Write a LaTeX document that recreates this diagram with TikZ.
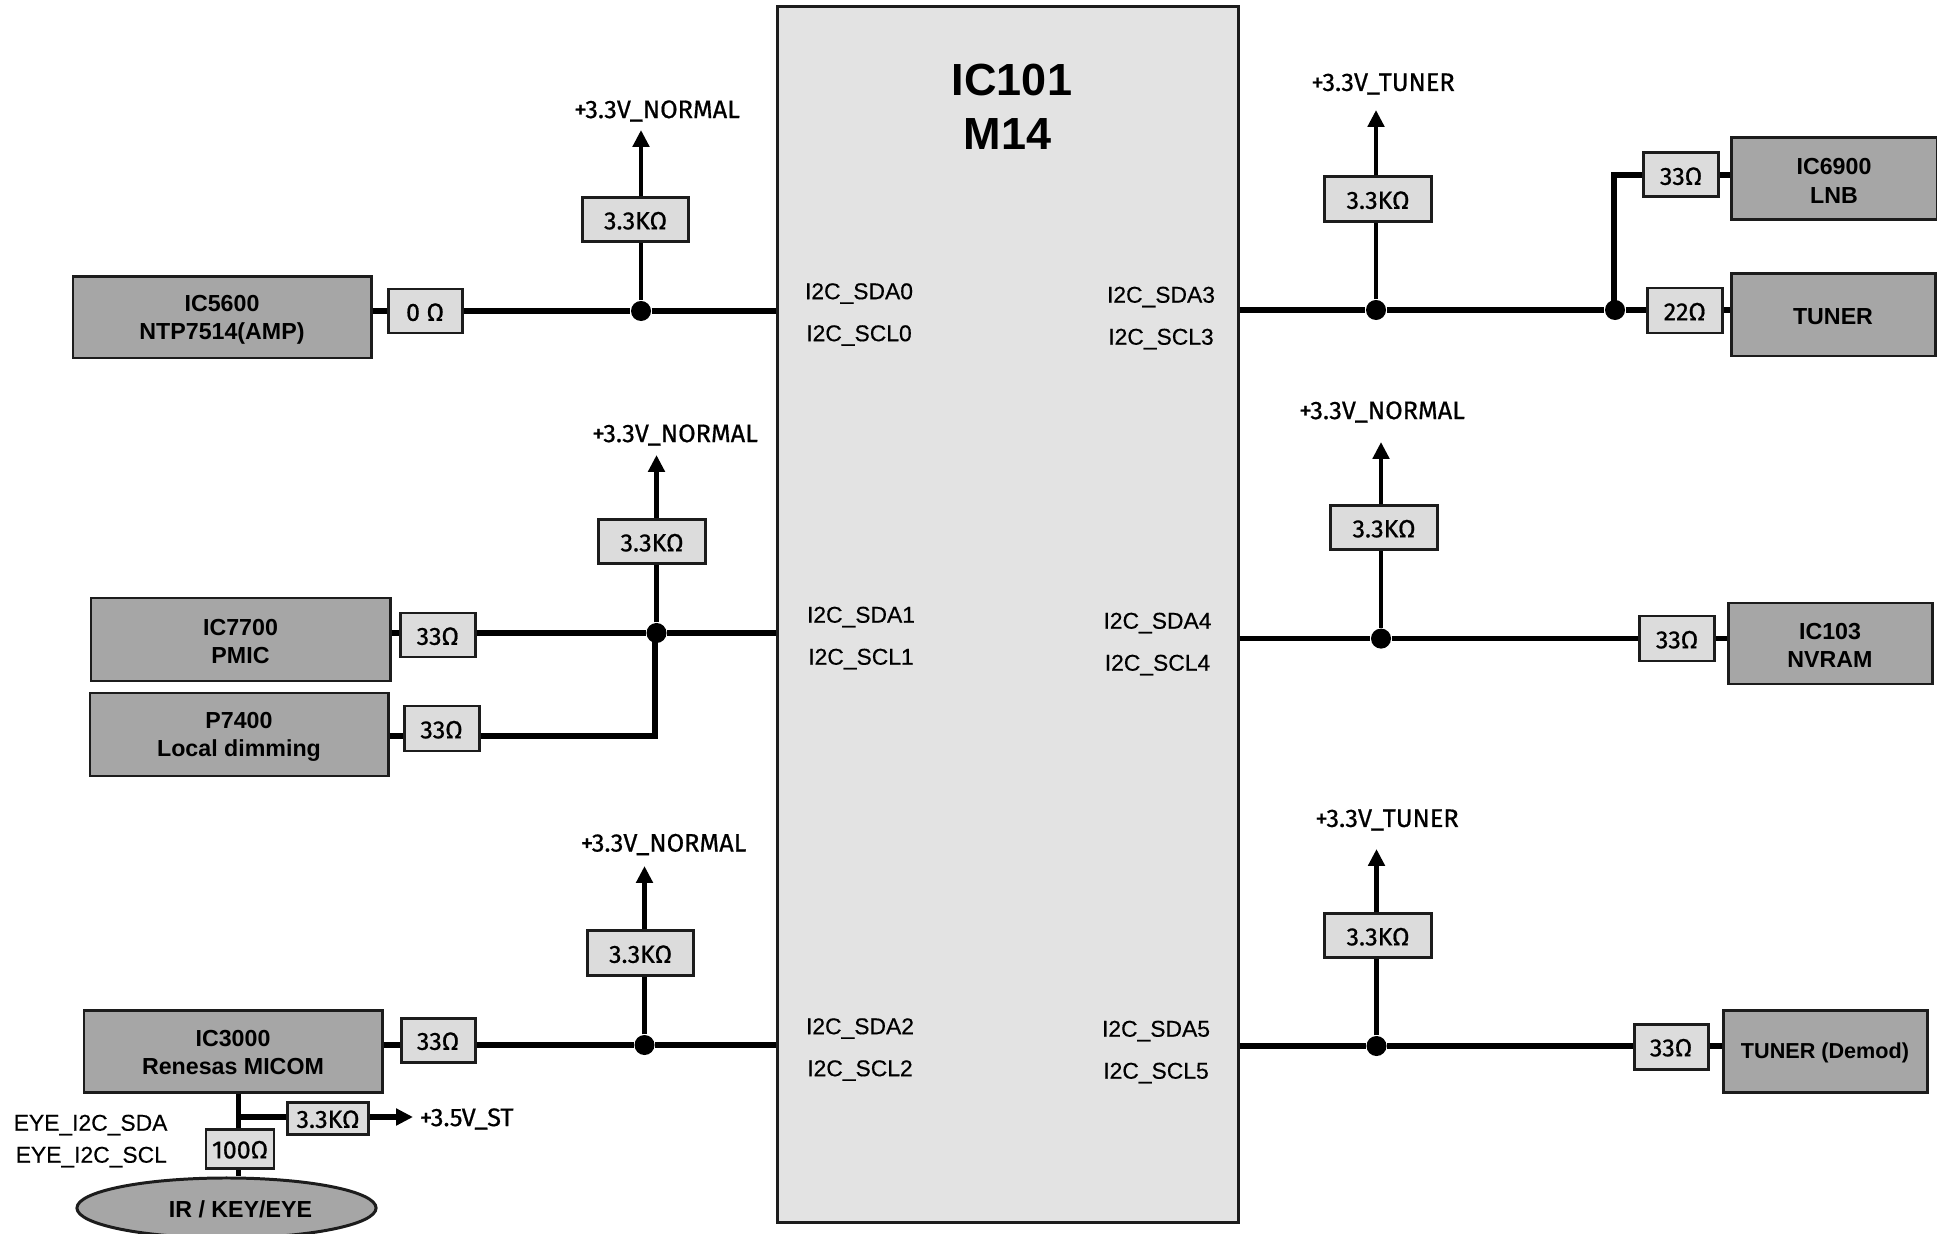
\documentclass[tikz,border=0pt]{standalone}
\usepackage{fontspec}
\setmainfont{Liberation Sans}
\newfontfamily\resfont[FakeBold=0.7]{Fira Sans}
\newfontfamily\pinfont[FakeBold=0.4]{Liberation Sans}
\usetikzlibrary{arrows.meta,shapes.geometric}
\definecolor{chipgray}{HTML}{A6A6A6}
\definecolor{resgray}{HTML}{DCDCDC}
\definecolor{maingray}{HTML}{E3E3E3}
\definecolor{edgegray}{HTML}{1C1C1C}
\newcommand{\chipstrut}{\rule{0pt}{5.7pt}}
\tikzset{
	chip/.style={draw=edgegray, fill=chipgray, line width=0.85pt, inner sep=0pt, align=center, font=\fontsize{6.6}{8}\selectfont\bfseries},
	res/.style={draw=edgegray, fill=resgray, line width=0.85pt, inner sep=0pt, text height=5.6pt, text depth=0pt, font=\fontsize{7.1}{8}\resfont},
	volt/.style={inner sep=0pt, yshift=-0.02cm, font=\fontsize{7.2}{8}\resfont},
	pin/.style={inner sep=0pt, yshift=-0.02cm, font=\fontsize{6.5}{8}\pinfont},
	title/.style={inner sep=0pt, font=\fontsize{12.8}{15.4}\selectfont\bfseries},
	wire/.style={line width=1.55pt, black},
	pull/.style={line width=1.2pt, black},
	junction/.style={circle, fill=black, inner sep=0pt, minimum size=0.2cm}
}
\begin{document}
\begin{tikzpicture}[x=0.01cm, y=-0.01cm, line join=miter, >={Triangle[length=4.8pt,width=4.6pt]}]
	\clip (0,0) rectangle (1937,1234);

	% Main IC
	\node[draw=edgegray, fill=maingray, line width=0.85pt, minimum width=4.6cm, minimum height=12.15cm, inner sep=0pt] (ic101) at (1008,614.5) {};
	\node[title] (ic101name) at (1012,80) {IC101};
	\node[title] (m14name) at (1007.5,134.5) {M14};

	% I2C pin names
	\foreach \n/\x/\y/\txt in {sda0/859/291.5/I2C\_SDA0, scl0/859/333.5/I2C\_SCL0, sda1/861/615/I2C\_SDA1, scl1/861/657/I2C\_SCL1,
		sda2/860/1026.5/I2C\_SDA2, scl2/860/1068.5/I2C\_SCL2, sda3/1161/295/I2C\_SDA3, scl3/1161/337/I2C\_SCL3,
		sda4/1157.5/621/I2C\_SDA4, scl4/1157.5/663/I2C\_SCL4, sda5/1156/1029/I2C\_SDA5, scl5/1156/1071/I2C\_SCL5} {
		\node[pin] (\n) at (\x,\y) {\txt};
	}

	% Outer chips
	\foreach \n/\x/\y/\w/\h/\txt in {ic5600/222/317.5/298/81/{IC5600\\NTP7514(AMP)}, ic7700/240.5/639.5/299/83/{IC7700\\PMIC},
		p7400/239/734.5/298/83/{P7400\\Local dimming}, ic3000/233/1051/298/82/{IC3000\\Renesas MICOM},
		ic6900/1834/179/206/82/{IC6900\\LNB}, tuner/1833/315/204/82/{TUNER},
		ic103/1830/643.5/204/81/{IC103\\NVRAM}, demod/1825/1051/204/82/{\fontsize{6.15}{8}\selectfont TUNER (Demod)}} {
		\node[chip, minimum width=\w*0.01cm, minimum height=\h*0.01cm] (\n) at (\x,\y) {\chipstrut\txt};
	}
	\node[chip, ellipse, minimum width=2.99cm, minimum height=0.6cm] (irkey) at (226.5,1208) {\chipstrut\hspace*{0.28cm}IR / KEY/EYE};

	% Series resistors
	\foreach \n/\x/\y/\w/\h/\txt in {r5600/425/311/74/44/{0 Ω}, r7700/437.75/635/75/44/33Ω, r7400/441.5/728.5/75/45/33Ω,
		r3000/438/1040/74/44/33Ω, r6900/1681/175/75/44/33Ω, rtuner/1684.75/310.5/75/45/22Ω,
		r103/1677/638.5/75/45/33Ω, rdemod/1671/1046.5/74/45/33Ω, reye/328/1118/81/32/3.3KΩ, rhund/240/1148.5/68/39/100Ω} {
		\node[res, minimum width=\w*0.01cm, minimum height=\h*0.01cm] (\n) at (\x,\y) {\txt};
	}

	% Junctions on the buses
	\foreach \n/\x/\y in {ja/641/311, jb/656.5/633, jc/644.5/1045, jd/1376/310, je/1381/638.6, jf/1376.5/1046, jg/1615/310} {
		\node[junction] (\n) at (\x,\y) {};
	}
	\coordinate (corner) at (655,736);
	\coordinate (lnbcorner) at (1614,175);
	\coordinate (eyebranch) at (238.5,1117);
	\coordinate (eyetip) at (413,1117);

	% Pull-ups to the supply rails
	\foreach \n/\x/\y/\tip/\lx/\ly/\txt in {ja/635.5/219.5/130/657/109/NORMAL, jb/652/541.5/455/675/433/NORMAL, jc/640.5/953/866/663.5/842.5/NORMAL,
		jd/1378/199/110/1383/82/TUNER, je/1384/527.5/442/1382/410/NORMAL, jf/1378/935.5/849/1387/818/TUNER} {
		\node[res, minimum width=1.06cm, minimum height=0.44cm] (pr\n) at (\x,\y) {3.3KΩ};
		\node[volt] (pv\n) at (\lx,\ly) {+3.3V\_\txt};
		\coordinate (pt\n) at (\n |- 0,\tip);
		\draw[pull] (\n) -- (\n |- pr\n.south);
		\draw[pull, ->] (\n |- pr\n.north) -- (pt\n);
	}

	% Left side buses
	\draw[wire] (ic5600.east |- ja) -- (r5600.west |- ja);
	\draw[wire] (r5600.east |- ja) -- (ja) -- (ja -| ic101.west);
	\draw[wire] (ic7700.east |- jb) -- (r7700.west |- jb);
	\draw[wire] (r7700.east |- jb) -- (jb) -- (jb -| ic101.west);
	\draw[wire] (p7400.east |- corner) -- (r7400.west |- corner);
	\draw[wire] (r7400.east |- corner) -- (corner) -- (corner |- jb);
	\draw[wire] (ic3000.east |- jc) -- (r3000.west |- jc);
	\draw[wire] (r3000.east |- jc) -- (jc) -- (jc -| ic101.west);

	% Right side buses
	\draw[wire] (jd -| ic101.east) -- (jd) -- (jg) -- (rtuner.west |- jg);
	\draw[wire] (rtuner.east |- jg) -- (tuner.west |- jg);
	\draw[wire] (jg.center -| lnbcorner) -- (lnbcorner) -- (r6900.west);
	\draw[wire] (r6900.east) -- (ic6900.west |- r6900);
	\draw[wire] (je -| ic101.east) -- (je) -- (r103.west |- je);
	\draw[wire] (r103.east |- je) -- (ic103.west |- je);
	\draw[wire] (jf -| ic101.east) -- (jf) -- (rdemod.west |- jf);
	\draw[wire] (rdemod.east |- jf) -- (demod.west |- jf);

	% Eye board link
	\draw[wire] (eyebranch |- ic3000.south) -- (eyebranch |- rhund.north);
	\draw[wire] (eyebranch |- rhund.south) -- (eyebranch |- irkey.north);
	\draw[wire] (eyebranch) -- (reye.west |- eyebranch);
	\draw[wire, ->] (reye.east |- eyebranch) -- (eyetip);
	\node[volt, anchor=west] (vst) at (419,1117) {+3.5V\_ST};
	\node[pin, anchor=west] (eyesda) at (13,1123) {EYE\_I2C\_SDA};
	\node[pin, anchor=west] (eyescl) at (15,1155) {EYE\_I2C\_SCL};
\end{tikzpicture}
\end{document}
